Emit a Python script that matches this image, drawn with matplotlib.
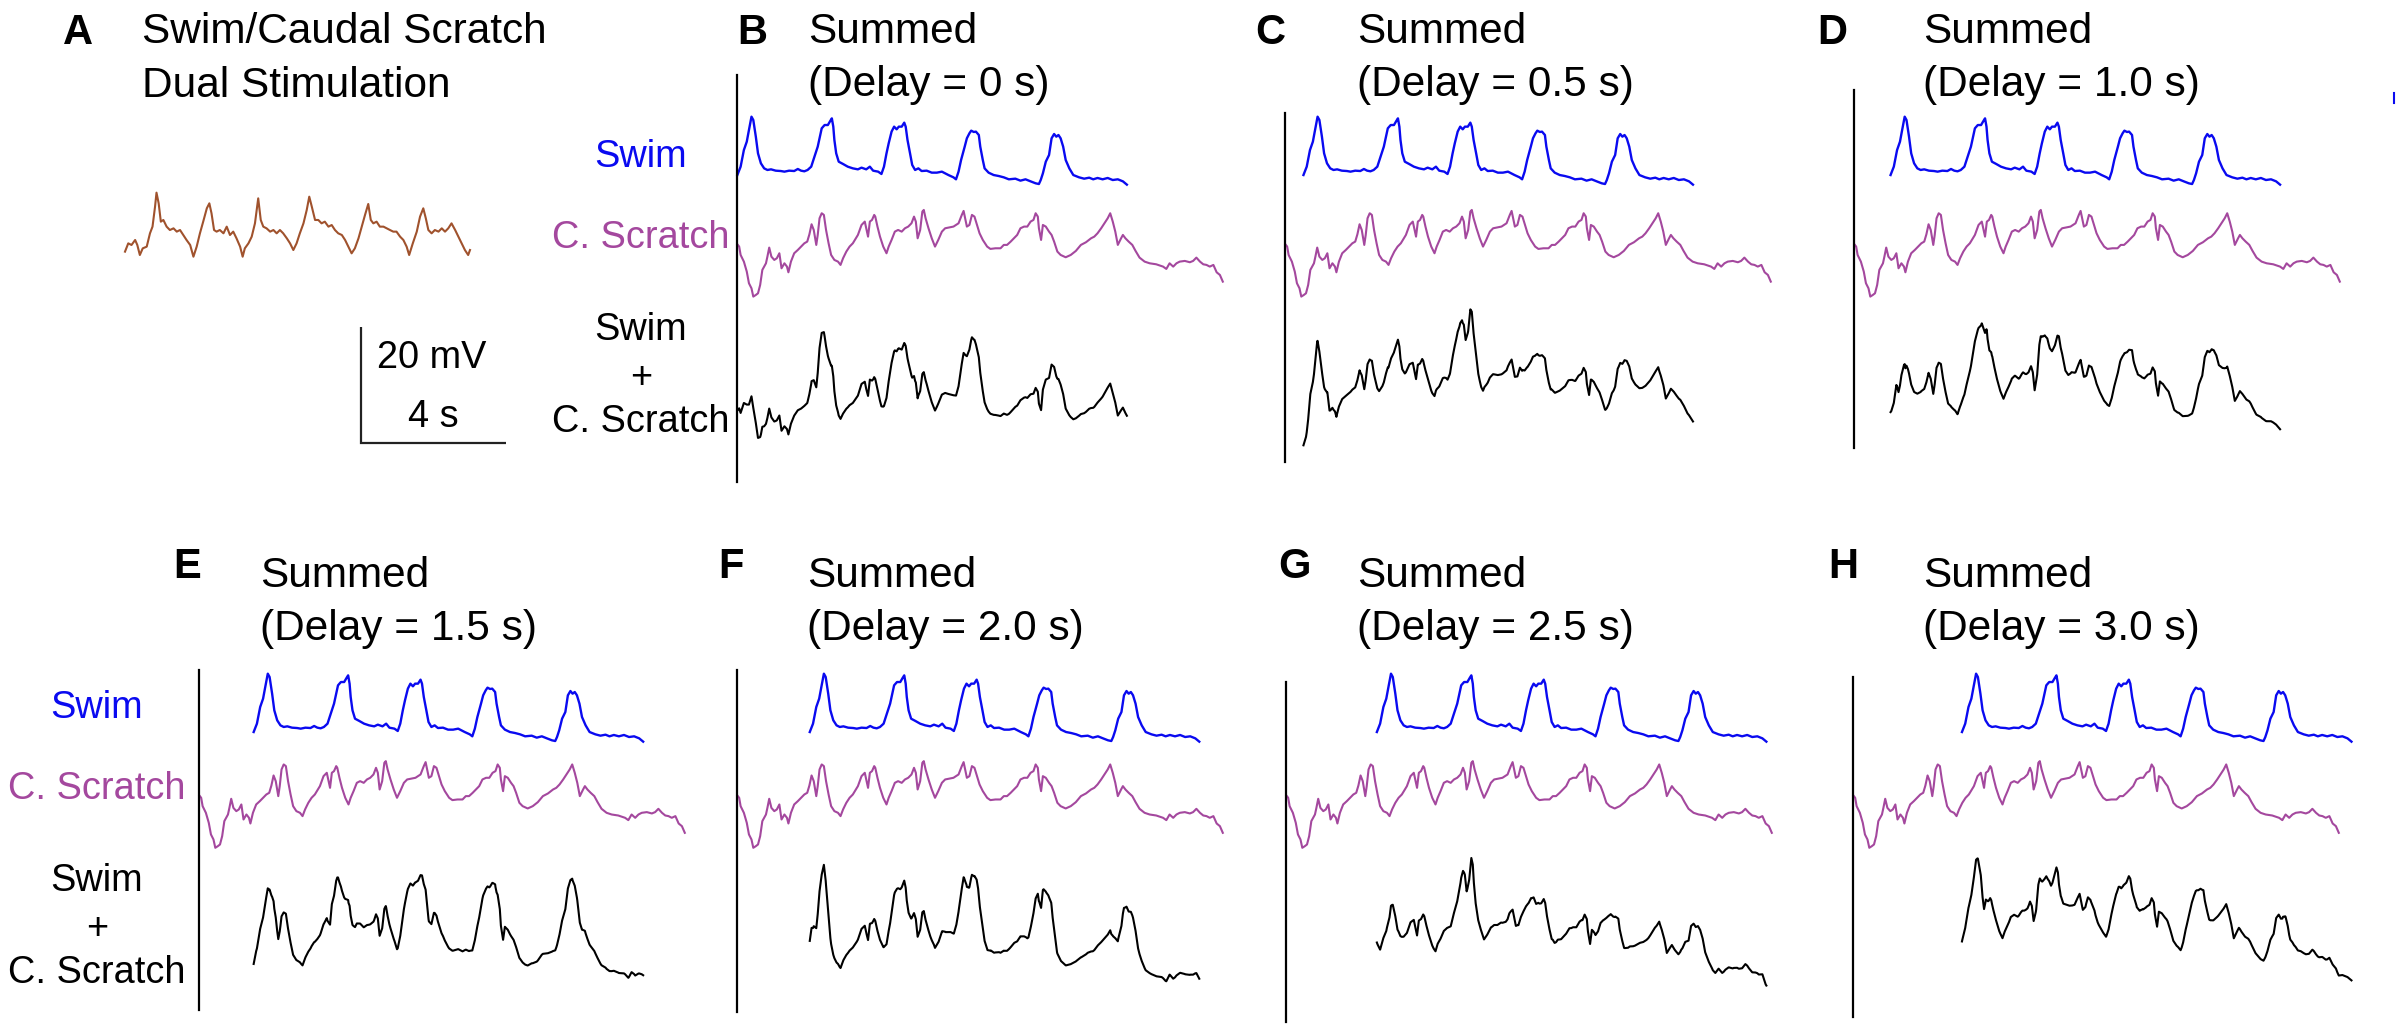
import numpy as np
import matplotlib
matplotlib.use("Agg")
import matplotlib.pyplot as plt
from matplotlib.lines import Line2D

# ---------------- data (time in s, membrane potential in mV) ----------------
# Panel A: dual stimulation recording (swim + caudal scratch)
dual_t = [0.00, 0.09, 0.18, 0.28, 0.34, 0.41, 0.49, 0.60, 0.69, 0.76, 0.83, 0.87, 0.93, 0.99,
          1.06, 1.15, 1.24, 1.34, 1.43, 1.52, 1.61, 1.70, 1.80, 1.89, 1.98, 2.07, 2.16, 2.26,
          2.33, 2.39, 2.46, 2.53, 2.62, 2.72, 2.81, 2.90, 2.99, 3.08, 3.18, 3.25, 3.31, 3.41,
          3.50, 3.59, 3.68, 3.75, 3.82, 3.91, 4.01, 4.10, 4.19, 4.28, 4.37, 4.47, 4.56, 4.65,
          4.74, 4.83, 4.93, 5.02, 5.09, 5.16, 5.25, 5.34, 5.43, 5.52, 5.62, 5.71, 5.80, 5.89,
          5.99, 6.08, 6.17, 6.26, 6.35, 6.45, 6.54, 6.63, 6.72, 6.79, 6.86, 6.95, 7.04, 7.14,
          7.23, 7.32, 7.41, 7.50, 7.60, 7.69, 7.78, 7.85, 7.95, 8.06, 8.15, 8.24, 8.31, 8.38,
          8.47, 8.56, 8.66, 8.75, 8.84, 8.93, 9.02, 9.12, 9.21, 9.30, 9.39, 9.48, 9.53]
dual_v = [1.44, 2.87, 2.59, 3.45, 2.59, 0.86, 2.01, 2.30, 4.60, 5.75, 9.20, 11.61, 9.77, 6.61,
          6.90, 5.75, 5.17, 5.46, 4.89, 5.17, 4.31, 3.45, 2.59, 0.57, 2.30, 4.60, 6.61, 8.91,
          9.77, 8.05, 5.17, 4.89, 5.17, 4.60, 5.75, 4.31, 4.89, 3.74, 2.30, 0.57, 2.01, 2.87,
          4.02, 6.32, 10.63, 6.90, 5.75, 5.46, 4.89, 5.17, 4.60, 5.17, 4.60, 3.74, 2.87, 1.72,
          2.87, 4.60, 6.32, 8.62, 10.92, 9.20, 6.90, 6.90, 6.32, 6.61, 5.75, 6.03, 5.17, 4.60,
          4.31, 3.45, 2.30, 1.15, 2.01, 3.74, 5.75, 7.76, 9.66, 6.90, 6.32, 6.61, 5.75, 5.75,
          5.46, 5.17, 4.89, 4.89, 4.02, 3.45, 2.30, 0.86, 2.87, 4.89, 7.47, 8.91, 7.18, 5.17,
          4.60, 5.17, 4.89, 5.46, 4.89, 5.46, 6.32, 5.17, 4.02, 2.87, 1.72, 0.86, 1.72]

# Swim recording
swim_t = [0.01, 0.10, 0.19, 0.27, 0.33, 0.40, 0.45, 0.52, 0.58, 0.66, 0.75, 0.84, 0.94, 1.07,
          1.21, 1.31, 1.44, 1.58, 1.68, 1.77, 1.86, 1.95, 2.05, 2.14, 2.23, 2.34, 2.42, 2.51,
          2.58, 2.62, 2.66, 2.69, 2.74, 2.81, 2.93, 3.06, 3.20, 3.34, 3.44, 3.57, 3.67, 3.76,
          3.90, 3.99, 4.06, 4.13, 4.19, 4.27, 4.34, 4.41, 4.47, 4.55, 4.62, 4.66, 4.71, 4.78,
          4.84, 4.92, 5.01, 5.10, 5.24, 5.38, 5.52, 5.66, 5.84, 5.98, 6.05, 6.12, 6.19, 6.29,
          6.35, 6.42, 6.47, 6.54, 6.60, 6.68, 6.72, 6.79, 6.84, 6.95, 7.09, 7.23, 7.37, 7.51,
          7.69, 7.83, 7.97, 8.11, 8.25, 8.34, 8.39, 8.45, 8.53, 8.62, 8.69, 8.76, 8.82, 8.88,
          8.94, 9.01, 9.08, 9.18, 9.29, 9.45, 9.59, 9.73, 9.84, 9.96, 10.10, 10.24, 10.38,
          10.52, 10.66, 10.77]
swim_v = [1.72, 3.16, 6.03, 7.47, 9.48, 11.78, 11.21, 8.33, 5.46, 3.74, 2.87, 2.59, 2.70, 2.47,
          2.41, 2.30, 2.47, 2.41, 2.76, 2.47, 2.36, 2.59, 3.16, 4.89, 6.61, 9.77, 10.34, 10.34,
          11.09, 11.49, 10.06, 7.76, 5.46, 4.02, 3.62, 3.16, 2.87, 2.70, 2.99, 2.70, 3.16, 2.47,
          2.30, 1.90, 3.16, 5.46, 7.18, 9.20, 10.06, 9.60, 10.06, 10.06, 10.75, 10.06, 7.76, 5.46,
          3.45, 2.59, 2.87, 2.41, 2.47, 2.13, 2.13, 2.30, 1.72, 1.32, 0.98, 2.30, 4.31, 6.61,
          8.05, 8.91, 9.37, 9.14, 9.20, 8.62, 6.61, 4.31, 2.87, 2.13, 1.72, 1.55, 1.32, 0.98,
          1.09, 0.75, 0.98, 0.63, 0.29, 0.17, 0.86, 2.01, 4.02, 5.17, 8.05, 8.79, 8.33, 8.62,
          8.05, 6.61, 4.31, 2.87, 1.72, 1.32, 1.09, 1.26, 0.98, 1.21, 0.98, 1.21, 0.86,
          0.98, 0.63, 0.06]

# Caudal scratch recording
scratch_t = [0.01, 0.06, 0.10, 0.19, 0.27, 0.33, 0.40, 0.45, 0.52, 0.58, 0.64, 0.70, 0.80, 0.84,
             0.89, 0.95, 1.03, 1.10, 1.17, 1.23, 1.31, 1.38, 1.42, 1.49, 1.58, 1.68, 1.77, 1.86,
             1.94, 2.00, 2.06, 2.12, 2.19, 2.23, 2.28, 2.34, 2.40, 2.46, 2.53, 2.60, 2.69, 2.79,
             2.86, 2.93, 3.02, 3.11, 3.20, 3.34, 3.44, 3.53, 3.57, 3.62, 3.67, 3.73, 3.79, 3.82,
             3.88, 3.95, 4.04, 4.13, 4.19, 4.27, 4.36, 4.45, 4.55, 4.64, 4.73, 4.82, 4.89, 4.94,
             4.99, 5.06, 5.12, 5.16, 5.21, 5.29, 5.38, 5.47, 5.56, 5.66, 5.75, 5.84, 5.98, 6.12,
             6.21, 6.26, 6.31, 6.35, 6.42, 6.49, 6.56, 6.63, 6.70, 6.79, 6.91, 7.00, 7.14, 7.28,
             7.37, 7.46, 7.56, 7.65, 7.74, 7.83, 7.93, 8.02, 8.11, 8.19, 8.25, 8.31, 8.34, 8.40,
             8.45, 8.53, 8.62, 8.69, 8.76, 8.85, 8.94, 9.08, 9.22, 9.36, 9.50, 9.64, 9.78, 9.87,
             9.96, 10.06, 10.15, 10.24, 10.31, 10.38, 10.45, 10.52, 10.61, 10.66, 10.73, 10.82,
             10.92, 11.01, 11.12, 11.26, 11.40, 11.58, 11.77, 11.86, 11.95, 12.05, 12.14, 12.23,
             12.37, 12.51, 12.60, 12.69, 12.79, 12.88, 12.97, 13.06, 13.16, 13.25, 13.34, 13.42]
scratch_v = [9.08, 8.68, 7.24, 6.09, 4.37, 2.36, 1.49, 0.06, 0.34, 0.63, 2.07, 4.66, 5.80, 6.95,
             8.51, 6.95, 6.38, 6.67, 7.53, 4.94, 5.80, 5.23, 4.25, 6.09, 7.53, 8.10, 8.68, 9.25,
             9.54, 10.80, 12.53, 11.55, 8.97, 10.69, 13.56, 14.43, 14.14, 11.55, 9.25, 7.24, 6.38, 6.09,
             5.52, 6.67, 7.82, 8.68, 9.25, 10.69, 12.41, 12.99, 11.84, 10.40, 12.99, 13.28, 14.14, 13.85,
             12.13, 10.40, 8.68, 7.53, 8.68, 9.83, 11.26, 11.55, 11.26, 11.84, 12.13, 12.70, 13.85, 12.99,
             10.11, 11.55, 14.71, 15.00, 13.56, 11.84, 10.11, 8.68, 9.83, 11.26, 11.84, 11.95, 12.13, 12.70,
             14.14, 14.83, 13.28, 12.13, 12.41, 14.14, 13.85, 12.41, 10.98, 9.83, 8.68, 8.28, 8.39, 8.39,
             8.97, 8.97, 9.54, 10.11, 10.69, 11.84, 12.13, 12.13, 12.99, 13.28, 14.43, 13.85, 11.84, 9.83,
             12.41, 12.13, 11.26, 10.69, 9.54, 7.82, 7.24, 6.84, 7.24, 7.93, 8.97, 9.43, 10.11, 10.40,
             10.98, 11.84, 12.70, 13.56, 14.43, 12.99, 11.26, 8.97, 10.11, 10.69, 10.11, 9.54,
             8.97, 7.93, 6.78, 6.09, 5.80, 5.63, 5.23, 4.83, 5.80, 5.23, 5.80, 6.09,
             6.21, 5.98, 6.21, 6.78, 6.09, 5.63, 5.52, 5.23, 5.52, 4.25, 3.79, 2.64]

panel_letters = ["B", "C", "D", "E", "F", "G", "H"]
delays_s = [0.0, 0.5, 1.0, 1.5, 2.0, 2.5, 3.0]
row_labels = ["Swim", "C. Scratch", "Swim", "+", "C. Scratch"]
scale_mv = 20
scale_s = 4

# ---------------- layout ----------------
W, H = 2403, 1031
PX_S = 36.2     # pixels per second
PX_MV = 5.8     # pixels per mV
BLUE = "#0a0af0"
PURPLE = "#a4489e"
BROWN = "#a0522d"
FONT = ["Liberation Sans", "DejaVu Sans"]
plt.rcParams["font.family"] = FONT

fig = plt.figure(figsize=(W / 100, H / 100), dpi=100)


def fx(x):
    return x / W


def fy(y):
    return 1 - y / H


def txt(x, y, s, size, weight="normal", color="black", ha="left"):
    fig.text(fx(x), fy(y), s, fontsize=size, fontweight=weight, color=color,
             ha=ha, va="baseline")


# panel layout: line x, line top, line bottom, swim baseline px, scratch offset mV, sum offset mV
layout = [
    (737, 75, 482, 185, 19.3, 49.7),
    (1285, 113, 462, 185, 19.3, 46.9),
    (1854, 90, 448, 185, 19.3, 47.4),
    (199, 670, 1010, 742, 18.3, 46.4),
    (737, 670, 1012, 742, 18.3, 47.1),
    (1286, 682, 1022, 742, 18.3, 46.2),
    (1853, 677, 1017, 742, 18.3, 43.8),
]
letter_pos = [(737, 44), (1255, 44), (1817, 44), (173, 578), (718, 578), (1278, 578), (1828, 578)]
title_pos = [(808, 43), (1357, 43), (1923, 43), (260, 587), (807, 587), (1357, 587), (1923, 587)]
title_gap = 53

sw_t = np.array(swim_t)
sw_v = np.array(swim_v)
sc_t = np.array(scratch_t)
sc_v = np.array(scratch_v)

for i, (letter, d) in enumerate(zip(panel_letters, delays_s)):
    x0, ytop, ybot, sbase, scr_off, sum_off = layout[i]
    wpx = 560
    ax = fig.add_axes([fx(x0), fy(ybot), wpx / W, (ybot - ytop) / H])
    ax.set_xlim(0, wpx / PX_S)
    ax.set_ylim((sbase - ybot) / PX_MV, (sbase - ytop) / PX_MV)
    for s in ["top", "right", "bottom"]:
        ax.spines[s].set_visible(False)
    ax.spines["left"].set_linewidth(1.6)
    ax.set_xticks([])
    ax.set_yticks([])
    ax.patch.set_alpha(0)

    ax.plot(sw_t + d, sw_v, color=BLUE, lw=1.7, clip_on=False, solid_joinstyle="round")
    ax.plot(sc_t, sc_v - scr_off, color=PURPLE, lw=1.5, clip_on=False, solid_joinstyle="round")
    # summed trace over the swim window
    t0, t1 = sw_t[0] + d, sw_t[-1] + d
    tt = np.union1d(sw_t + d, sc_t[(sc_t >= t0) & (sc_t <= t1)])
    summed = np.interp(tt - d, sw_t, sw_v) + np.interp(tt, sc_t, sc_v)
    ax.plot(tt, summed - sum_off, color="black", lw=1.5, clip_on=False, solid_joinstyle="round")

    lx, ly = letter_pos[i]
    txt(lx, ly, letter, 30, weight="bold")
    tx, ty = title_pos[i]
    txt(tx, ty, "Summed", 30.5)
    txt(tx, ty + title_gap, "(Delay = %.1f s)" % d if d > 0 else "(Delay = 0 s)", 30.5)

# Panel A
txt(63, 44, "A", 30, weight="bold")
txt(142, 43, "Swim/Caudal Scratch", 30.5)
txt(142, 97, "Dual Stimulation", 30.5)

axa = fig.add_axes([fx(100), fy(460), 430 / W, 360 / H])
axa.set_xlim(-25 / PX_S, 405 / PX_S)
axa.set_ylim((260 - 460) / PX_MV, (260 - 100) / PX_MV)
axa.axis("off")
axa.plot(dual_t, dual_v, color=BROWN, lw=1.5, solid_joinstyle="round")
# scale bar
sb_t = (361 - 125) / PX_S
sb_v = (260 - 443) / PX_MV
axa.plot([sb_t, sb_t, sb_t + scale_s], [sb_v + scale_mv, sb_v, sb_v], color="#222222", lw=1.6,
         solid_joinstyle="miter", solid_capstyle="butt")
txt(432, 368, "%d mV" % scale_mv, 27.3, ha="center")
txt(433, 427, "%d s" % scale_s, 27.3, ha="center")

# row labels
for cx, dy in [(641, 0), (97, 551)]:
    txt(cx, 167 + dy, row_labels[0], 27.3, color=BLUE, ha="center")
    txt(cx, 248 + dy, row_labels[1], 27.3, color=PURPLE, ha="center")
    txt(cx, 340 + dy, row_labels[2], 27.3, ha="center")
    txt(cx, 388 + dy, row_labels[3], 27.3, ha="center")
    txt(cx, 432 + dy, row_labels[4], 27.3, ha="center")

# small blue artefact at the top right
fig.add_artist(Line2D([fx(2394), fx(2394)], [fy(93), fy(103)], color=BLUE, lw=1.5))

fig.savefig("out.png", dpi=100)
